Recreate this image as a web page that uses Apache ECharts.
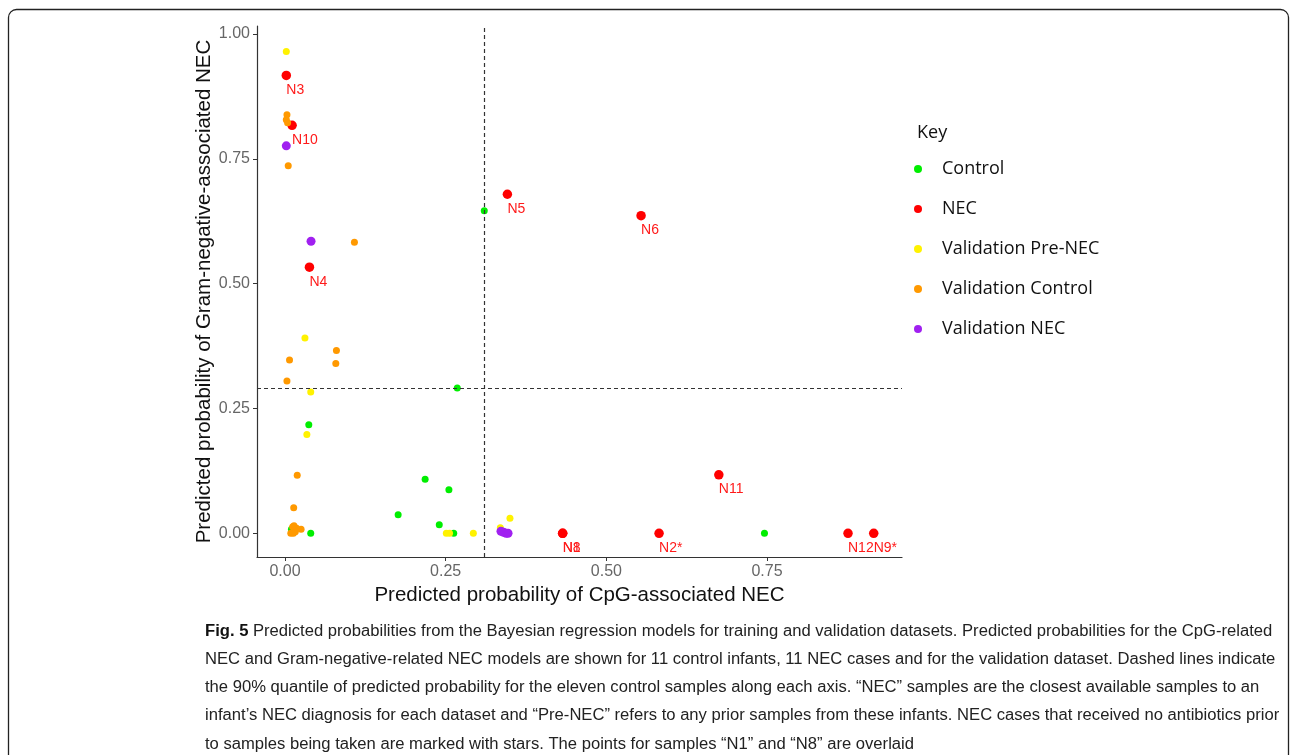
<!DOCTYPE html>
<html>
<head>
<meta charset="utf-8">
<script src="https://cdn.jsdelivr.net/npm/echarts@6/dist/echarts.min.js"></script>
<style>
  html, body { margin: 0; padding: 0; background: #fff; }
  #chart { width: 1290px; height: 755px; }
</style>
</head>
<body>
<div id="chart"></div>
<script>
// ---------- data ----------
const xTicks = [0, 0.25, 0.5, 0.75];
const yTicks = [0, 0.25, 0.5, 0.75, 1];

const controlX = [0.310, 0.268, 0.037, 0.040, 0.176, 0.218, 0.255, 0.240, 0.2625, 0.746, 0.010];
const controlY = [0.646, 0.291, 0.2175, 0.000, 0.037, 0.108, 0.087, 0.017, 0.000, 0.000, 0.008];

const necNames = ['N3', 'N10', 'N4', 'N5', 'N6', 'N11', 'N1', 'N8', 'N2*', 'N12', 'N9*'];
const necX = [0.002, 0.011, 0.038, 0.346, 0.554, 0.675, 0.432, 0.432, 0.582, 0.876, 0.916];
const necY = [0.917, 0.817, 0.533, 0.679, 0.636, 0.117, 0.000, 0.000, 0.000, 0.000, 0.000];

const preNecX = [0.002, 0.031, 0.040, 0.034, 0.251, 0.256, 0.293, 0.335, 0.350];
const preNecY = [0.965, 0.391, 0.283, 0.198, 0.000, 0.000, 0.000, 0.011, 0.030];

const valControlX = [0.003, 0.002, 0.004, 0.005, 0.108, 0.007, 0.080, 0.079, 0.003, 0.019, 0.0135, 0.009, 0.013, 0.016, 0.012, 0.018, 0.025, 0.014];
const valControlY = [0.838, 0.828, 0.822, 0.736, 0.583, 0.347, 0.366, 0.340, 0.305, 0.116, 0.051, 0.000, 0.000, 0.003, 0.013, 0.010, 0.008, 0.015];

const valNecX = [0.002, 0.0405, 0.336, 0.340, 0.344, 0.347];
const valNecY = [0.776, 0.585, 0.004, 0.002, 0.000, 0.000];

// 90% quantiles of control predictions (dashed lines)
const quantileX = 0.310;
const quantileY = 0.291;

const seriesNames = ['Control', 'NEC', 'Validation Pre-NEC', 'Validation Control', 'Validation NEC'];
const xTitle = 'Predicted probability of CpG-associated NEC';
const yTitle = 'Predicted probability of Gram-negative-associated NEC';
const keyTitle = 'Key';

const captionBold = 'Fig. 5';
const captionLines = [
  ' Predicted probabilities from the Bayesian regression models for training and validation datasets. Predicted probabilities for the CpG-related',
  'NEC and Gram-negative-related NEC models are shown for 11 control infants, 11 NEC cases and for the validation dataset. Dashed lines indicate',
  'the 90% quantile of predicted probability for the eleven control samples along each axis. \u201CNEC\u201D samples are the closest available samples to an',
  'infant\u2019s NEC diagnosis for each dataset and \u201CPre-NEC\u201D refers to any prior samples from these infants. NEC cases that received no antibiotics prior',
  'to samples being taken are marked with stars. The points for samples \u201CN1\u201D and \u201CN8\u201D are overlaid'
];

// ---------- build ----------
const zip = (xs, ys) => xs.map((x, i) => [x, ys[i]]);
const axisFont = "'Liberation Sans', Arial, sans-serif";
const capFont = "'Liberation Sans', Arial, sans-serif";
const keyFont = "'Open Sans', sans-serif";

// fit caption first line into its width
const cv = document.createElement('canvas').getContext('2d');
cv.font = 'bold 100px ' + capFont;
let w = cv.measureText(captionBold).width;
cv.font = '100px ' + capFont;
w += cv.measureText(captionLines[0]).width;
const capSize = 100 * 1068 / w;

const capX = 205;
const capY0 = 631;
const capStep = 28.3;
const captionGraphics = captionLines.map((line, i) => ({
  type: 'text',
  x: capX,
  y: capY0 + i * capStep,
  silent: true,
  style: {
    text: i === 0 ? '{b|' + captionBold + '}{r|' + line + '}' : line,
    fontSize: capSize,
    fontFamily: capFont,
    fill: '#222',
    verticalAlign: 'middle',
    align: 'left',
    rich: {
      b: { fontWeight: 'bold', fontSize: capSize, fontFamily: capFont, fill: '#111' },
      r: { fontSize: capSize, fontFamily: capFont, fill: '#222' }
    }
  }
}));

const colors = ['#00EE00', '#FF0000', '#FFF200', '#FF9900', '#A020F0'];

const option = {
  animation: false,
  backgroundColor: '#fff',
  grid: { left: 257, top: 26, width: 645, height: 531, containLabel: false },
  xAxis: {
    type: 'value',
    min: -0.0436,
    max: 0.960,
    name: xTitle,
    nameLocation: 'middle',
    nameGap: 25,
    nameTextStyle: { fontSize: 20.5, color: '#111', fontFamily: axisFont, verticalAlign: 'top' },
    axisLine: { show: true, onZero: false, lineStyle: { color: '#333', width: 1.2 } },
    axisTick: { show: true, length: 4, lineStyle: { color: '#333' }, customValues: xTicks },
    axisLabel: { color: '#666', fontSize: 16, fontFamily: axisFont, margin: 7, customValues: xTicks,
      formatter: v => v.toFixed(2) },
    splitLine: { show: false }
  },
  yAxis: {
    type: 'value',
    min: -0.0475,
    max: 1.016,
    name: yTitle,
    nameLocation: 'middle',
    nameGap: 40,
    nameRotate: 90,
    nameTextStyle: { fontSize: 20.5, color: '#111', fontFamily: axisFont },
    axisLine: { show: true, onZero: false, lineStyle: { color: '#333', width: 1.2 } },
    axisTick: { show: true, length: 4, lineStyle: { color: '#333' }, customValues: yTicks },
    axisLabel: { color: '#666', fontSize: 16, fontFamily: axisFont, margin: 7, customValues: yTicks,
      formatter: v => v.toFixed(2) },
    splitLine: { show: false }
  },
  title: {
    text: keyTitle,
    left: 912,
    top: 119,
    textStyle: { fontSize: 18, fontWeight: 'normal', color: '#111', fontFamily: keyFont }
  },
  legend: {
    data: seriesNames,
    orient: 'vertical',
    left: 909,
    top: 154,
    icon: 'circle',
    itemWidth: 8,
    itemHeight: 8,
    itemGap: 20,
    textStyle: { fontSize: 18, color: '#111', fontFamily: keyFont, lineHeight: 20, padding: [0, 0, 0, 15] },
    selectedMode: false
  },
  graphic: [
    {
      type: 'rect',
      silent: true,
      shape: { x: 8.5, y: 9.5, width: 1280, height: 800, r: 8 },
      style: { fill: 'none', stroke: '#222', lineWidth: 1.3 }
    }
  ].concat(captionGraphics),
  series: [
    {
      name: seriesNames[0], type: 'scatter', symbolSize: 7,
      itemStyle: { color: colors[0], opacity: 1 },
      data: zip(controlX, controlY),
      markLine: {
        silent: true,
        symbol: ['none', 'none'],
        label: { show: false },
        lineStyle: { type: [4, 3], color: '#333', width: 1.2 },
        data: [{ xAxis: quantileX }, { yAxis: quantileY }]
      }
    },
    {
      name: seriesNames[1], type: 'scatter', symbolSize: 9.5,
      itemStyle: { color: colors[1], opacity: 1 },
      data: necX.map((x, i) => ({ value: [x, necY[i]], name: necNames[i] })),
      label: {
        show: true, position: 'bottom', distance: 3, align: 'left', verticalAlign: 'top',
        formatter: '{b}', color: '#FF1A1A', fontSize: 14, fontFamily: axisFont
      }
    },
    {
      name: seriesNames[2], type: 'scatter', symbolSize: 7,
      itemStyle: { color: colors[2], opacity: 1 },
      data: zip(preNecX, preNecY)
    },
    {
      name: seriesNames[3], type: 'scatter', symbolSize: 7,
      itemStyle: { color: colors[3], opacity: 1 },
      data: zip(valControlX, valControlY)
    },
    {
      name: seriesNames[4], type: 'scatter', symbolSize: 9,
      itemStyle: { color: colors[4], opacity: 1 },
      data: zip(valNecX, valNecY)
    }
  ]
};

const chart = echarts.init(document.getElementById('chart'), null, { renderer: 'canvas' });
chart.setOption(option);
</script>
</body>
</html>
